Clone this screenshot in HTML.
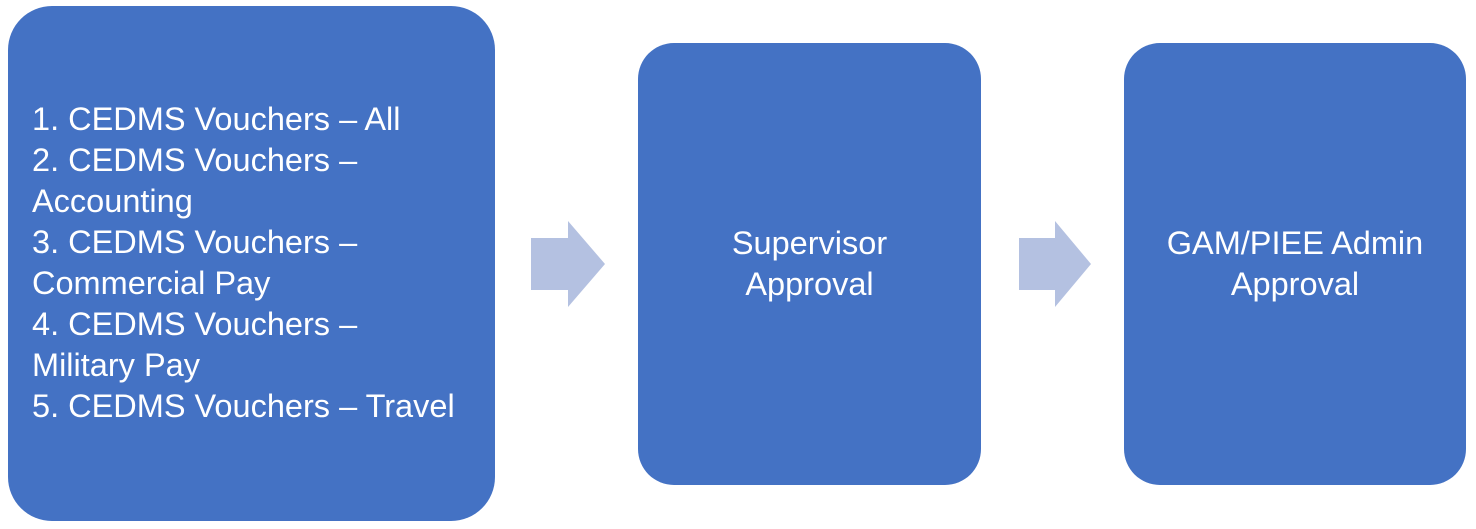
<!DOCTYPE html>
<html><head><style>
body{margin:0;width:1476px;height:529px;background:#fff;position:relative;overflow:hidden;font-family:"Liberation Sans",sans-serif;}
.b{position:absolute;background:#4472C4;border-radius:44px;color:#fff;font-size:32.5px;line-height:41px;}
.c{display:flex;align-items:center;justify-content:center;text-align:center;}
</style></head><body>
<div class="b" style="left:8px;top:6px;width:487px;height:515px;">
<div style="position:absolute;left:24px;top:93px;width:470px;white-space:nowrap;">1. CEDMS Vouchers – All<br>2. CEDMS Vouchers –<br>Accounting<br>3. CEDMS Vouchers –<br>Commercial Pay<br>4. CEDMS Vouchers –<br>Military Pay<br>5. CEDMS Vouchers – Travel</div>
</div>
<div class="b c" style="left:638px;top:43px;width:343px;height:442px;border-radius:36px;"><div>Supervisor<br>Approval</div></div>
<div class="b c" style="left:1124px;top:43px;width:342px;height:442px;border-radius:36px;"><div>GAM/PIEE Admin<br>Approval</div></div>
<svg width="1476" height="529" style="position:absolute;left:0;top:0">
<polygon points="531,238 568,238 568,221 605,264 568,307 568,290 531,290" fill="#B4C1E1"/>
<polygon points="1019,238 1055,238 1055,221 1091,264 1055,307 1055,290 1019,290" fill="#B4C1E1"/>
</svg>
</body></html>
